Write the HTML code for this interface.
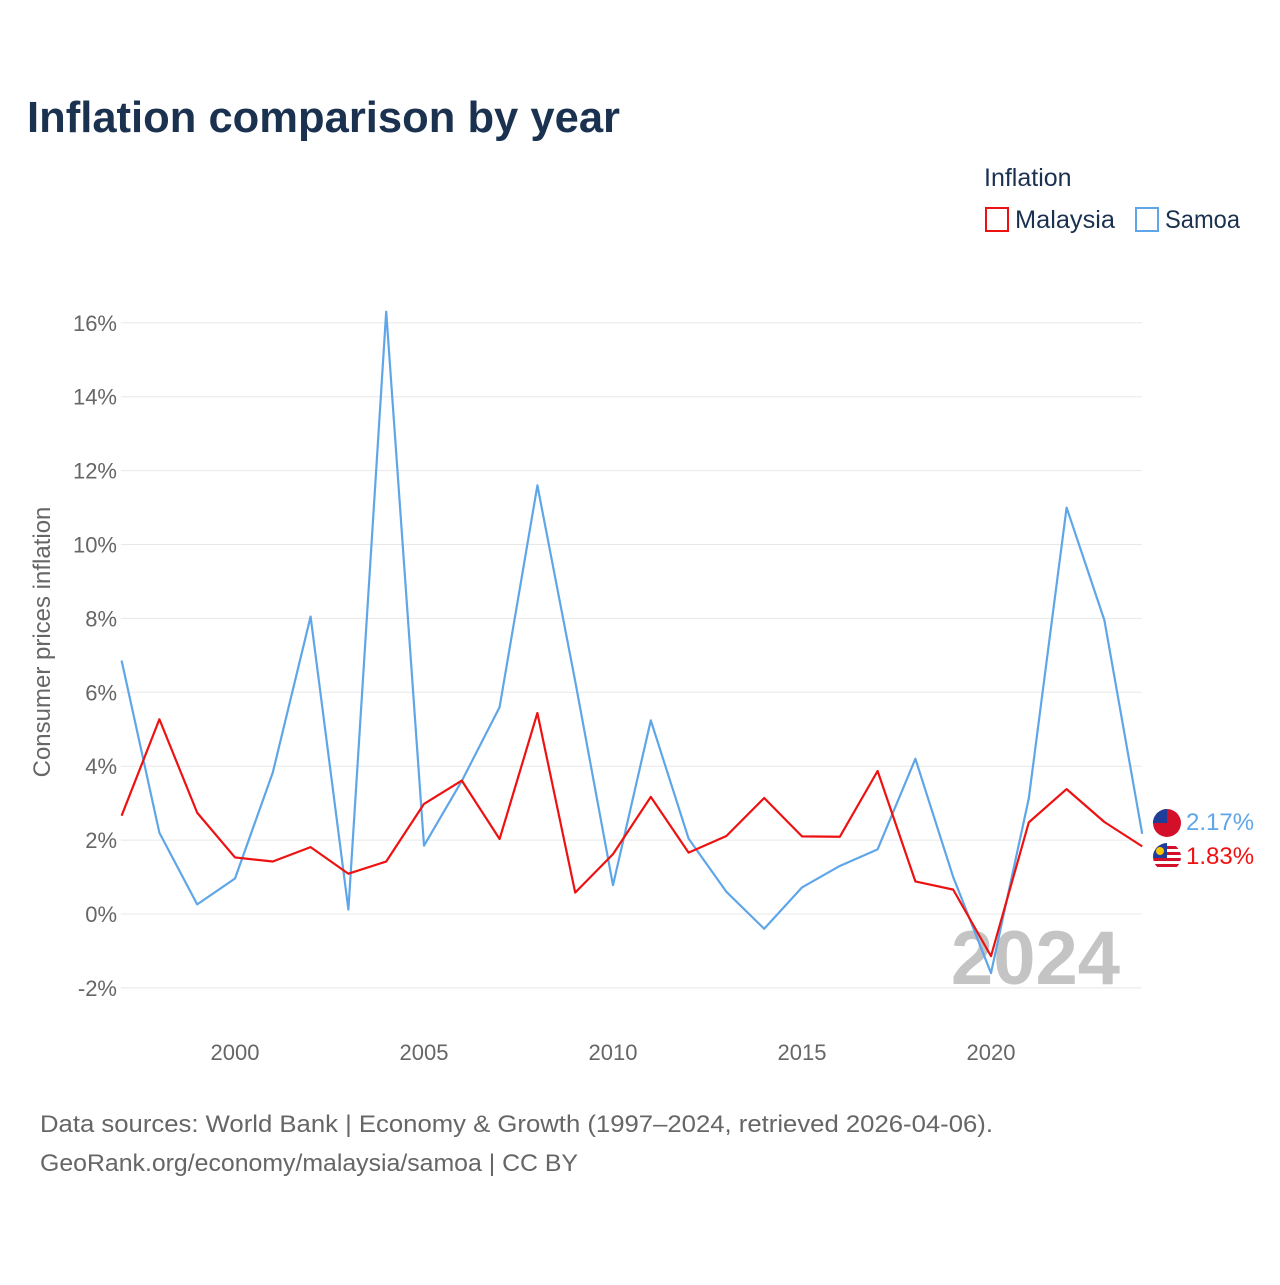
<!DOCTYPE html>
<html><head><meta charset="utf-8"><style>
body{margin:0;background:#fff;font-family:"Liberation Sans",sans-serif}
</style></head><body>
<svg id="c" width="1280" height="1280" xmlns="http://www.w3.org/2000/svg">
<text x="27" y="132" font-size="44" font-weight="bold" fill="#1a3150" textLength="593" lengthAdjust="spacingAndGlyphs">Inflation comparison by year</text>
<text x="984" y="186" font-size="25" fill="#1a3150">Inflation</text>
<g><rect x="986" y="208" width="22" height="23" fill="none" stroke="#ee1111" stroke-width="2"/><text x="1015" y="228" font-size="25" fill="#1a3150" textLength="100" lengthAdjust="spacingAndGlyphs">Malaysia</text></g>
<g><rect x="1136" y="208" width="22" height="23" fill="none" stroke="#5fa6e8" stroke-width="2"/><text x="1165" y="228" font-size="25" fill="#1a3150" textLength="75" lengthAdjust="spacingAndGlyphs">Samoa</text></g>
<g id="grid"></g>
<g id="yt"></g>
<g id="xt"></g>
<text transform="translate(50,642) rotate(-90)" text-anchor="middle" font-size="24" fill="#666">Consumer prices inflation</text>
<text x="1120" y="984" text-anchor="end" font-size="76" font-weight="bold" fill="#c4c4c4">2024</text>
<g id="series"></g>
<g><clipPath id="c1"><circle cx="1167" cy="823" r="14"/></clipPath><g clip-path="url(#c1)"><rect x="1153" y="809" width="28" height="28" fill="#d40f2a"/><rect x="1153" y="809" width="14" height="14" fill="#1e3e9a"/></g></g>
<g><clipPath id="c2"><circle cx="1167" cy="857" r="14"/></clipPath><g clip-path="url(#c2)"><rect x="1153" y="843" width="28" height="28" fill="#fff"/><rect x="1153" y="846" width="28" height="3" fill="#d40f2a"/><rect x="1153" y="852" width="28" height="3" fill="#d40f2a"/><rect x="1153" y="858" width="28" height="3" fill="#d40f2a"/><rect x="1153" y="864" width="28" height="3" fill="#d40f2a"/><rect x="1153" y="843" width="14" height="15" fill="#1e3e9a"/><circle cx="1160" cy="851" r="4" fill="#f7c600"/></g></g>
<text x="1186" y="830" font-size="24" fill="#5fa6e8">2.17%</text>
<text x="1186" y="864" font-size="24" fill="#ee1111">1.83%</text>
<text x="40" y="1132" font-size="24" fill="#666" textLength="953" lengthAdjust="spacingAndGlyphs">Data sources: World Bank | Economy &amp; Growth (1997–2024, retrieved 2026-04-06).</text>
<text x="40" y="1171" font-size="24" fill="#666" textLength="538" lengthAdjust="spacingAndGlyphs">GeoRank.org/economy/malaysia/samoa | CC BY</text>
</svg>
<script>
const years=[1997,1998,1999,2000,2001,2002,2003,2004,2005,2006,2007,2008,2009,2010,2011,2012,2013,2014,2015,2016,2017,2018,2019,2020,2021,2022,2023,2024];
const malaysia=[2.66,5.27,2.74,1.53,1.42,1.81,1.09,1.42,2.98,3.61,2.03,5.44,0.58,1.62,3.17,1.66,2.11,3.14,2.10,2.09,3.87,0.88,0.66,-1.14,2.48,3.38,2.49,1.83];
const samoa=[6.86,2.2,0.26,0.96,3.83,8.05,0.12,16.3,1.85,3.6,5.6,11.6,6.3,0.78,5.24,2.04,0.6,-0.4,0.72,1.3,1.75,4.2,1.0,-1.6,3.13,11.0,7.95,2.17];
const yTicks=[-2,0,2,4,6,8,10,12,14,16];
const xTicks=[2000,2005,2010,2015,2020];
const NS="http://www.w3.org/2000/svg";
const X=y=>121.6+(y-1997)*37.8;
const Y=v=>914-v*36.95;
function mk(t,a,p){const e=document.createElementNS(NS,t);for(const k in a)e.setAttribute(k,a[k]);p.appendChild(e);return e;}
const g=document.getElementById('grid'),yt=document.getElementById('yt'),xt=document.getElementById('xt'),s=document.getElementById('series');
yTicks.forEach(v=>{
 const l=mk('line',{x1:121,x2:1142,y1:Y(v),y2:Y(v),stroke:'#e8e8e8','stroke-width':1},g);
 
 
 const t=mk('text',{x:117,y:Y(v)+8,'text-anchor':'end','font-size':22,fill:'#666'},yt);
 t.textContent=v+'%';
 
 
});
xTicks.forEach(v=>{
 const t=mk('text',{x:X(v),y:1060,'text-anchor':'middle','font-size':22,fill:'#666'},xt);
 t.textContent=v;
 
 
});
function line(d,c,n){
 const p=mk('polyline',{points:d.map((v,i)=>X(years[i])+','+Y(v)).join(' '),fill:'none',stroke:c,'stroke-width':2.2,'stroke-linejoin':'round'},s);
 
 
}
line(samoa,'#5fa6e8','samoa-line');
line(malaysia,'#ee1111','malaysia-line');
</script>
</body></html>
